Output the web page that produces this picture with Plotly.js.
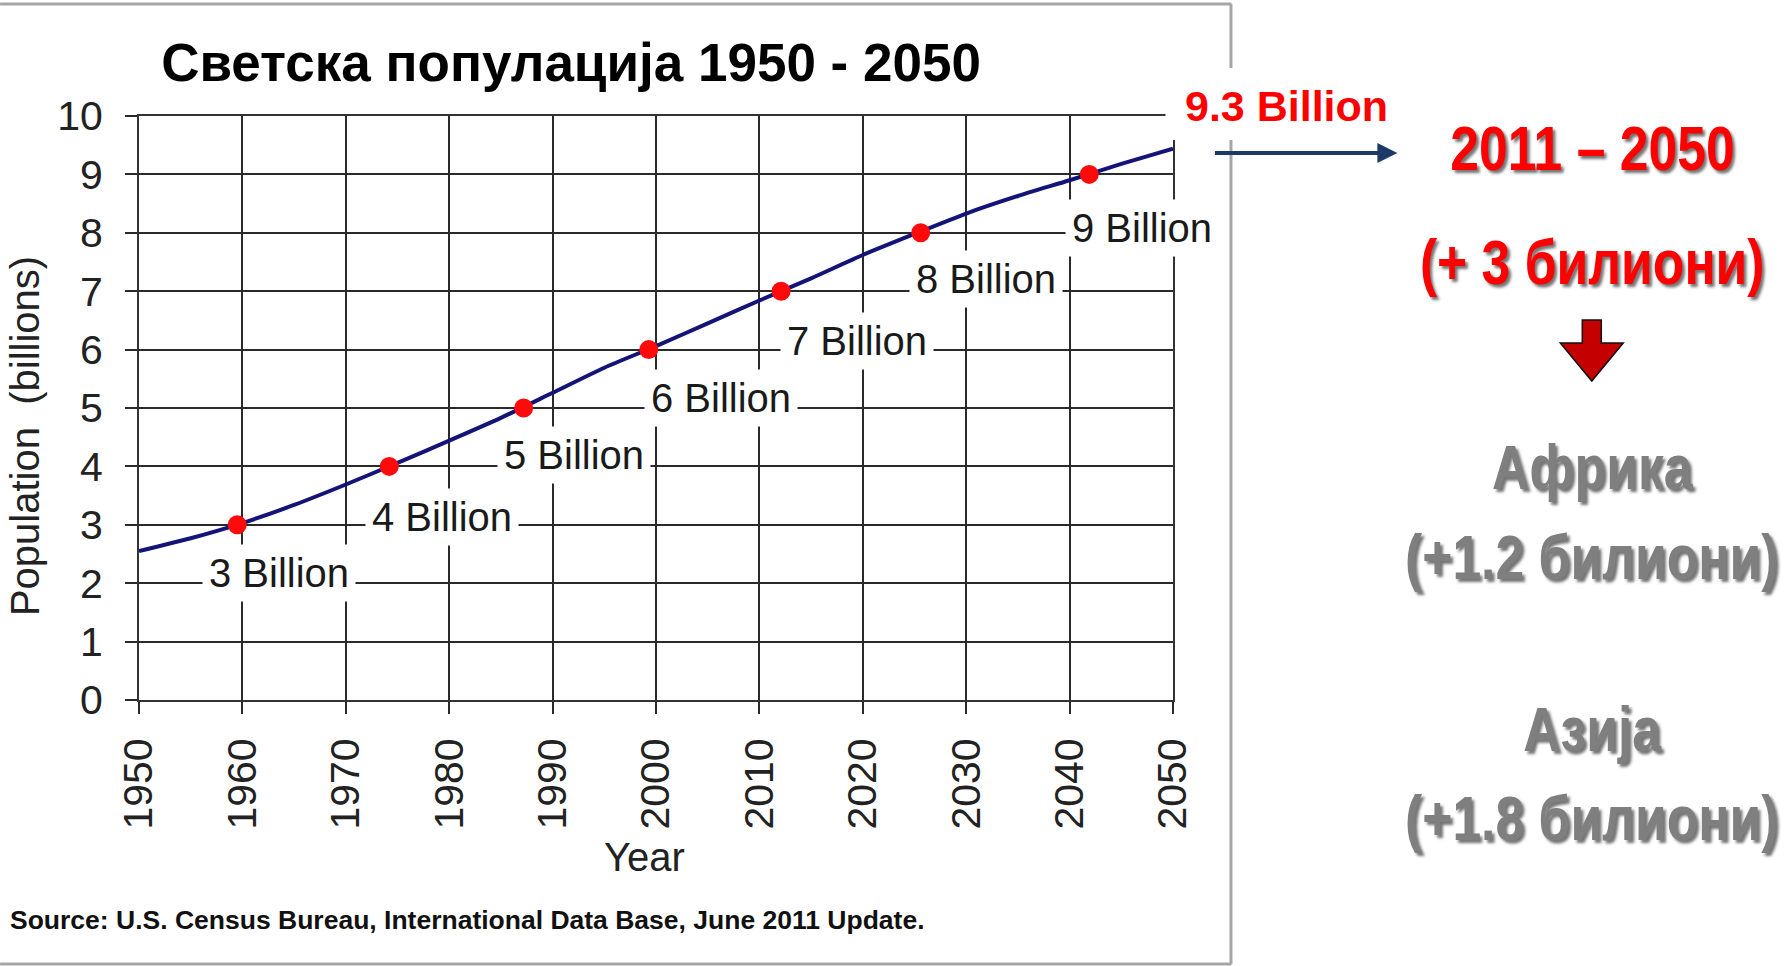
<!DOCTYPE html>
<html>
<head>
<meta charset="utf-8">
<script src="https://cdn.plot.ly/plotly-3.0.1.min.js"></script>
<style>
html,body{margin:0;padding:0;background:#fff;}
#chart{width:1787px;height:966px;}
</style>
</head>
<body>
<div id="chart"></div>
<script>
// ---- data ----
const years = [1950,1955,1960,1965,1970,1975,1980,1985,1990,1995,2000,2005,2010,2015,2020,2025,2030,2035,2040,2045,2050];
const population = [2.55,2.77,3.03,3.34,3.69,4.06,4.44,4.83,5.26,5.69,6.06,6.45,6.84,7.22,7.62,7.98,8.33,8.63,8.90,9.18,9.44];
const milestoneYears = [1959.5,1974.2,1987.2,1999.3,2012.1,2025.6,2041.9];
const milestoneValues = [3,4,5,6,7,8,9];
const milestoneLabels = ['3 Billion','4 Billion','5 Billion','6 Billion','7 Billion','8 Billion','9 Billion'];
const xTicks = [1950,1960,1970,1980,1990,2000,2010,2020,2030,2040,2050];
const yTicks = [0,1,2,3,4,5,6,7,8,9,10];
const titleText = 'Светска популација 1950 - 2050';
const xTitle = 'Year';
const yTitle = 'Population  (billions)';
const sourceText = 'Source: U.S. Census Bureau, International Data Base, June 2011 Update.';
const endLabel = '9.3 Billion';
const sideTexts = ['2011 – 2050','(+ 3 билиони)','Африка','(+1.2 билиони)','Азија','(+1.8 билиони)'];

// ---- layout helpers (pixel -> paper) ----
const W = 1787, H = 966, L = 139, R = 1173.5, T = 116, B = 700;
const px = x => (x - L) / (R - L);
const py = y => (B - y) / (B - T);

// label placement relative to milestone point (years, billions)
const labelDX = [4.05, 5.15, 4.85, 6.95, 7.35, 6.35, 5.1];
const labelDY = [-0.83, -0.86, -0.81, -0.83, -0.85, -0.79, -0.91];

const baseFont = 'Liberation Sans, Arial, sans-serif';

const traces = [
  {
    x: years, y: population, type: 'scatter', mode: 'lines',
    line: {color: '#141478', width: 4, shape: 'spline', smoothing: 0.6},
    hoverinfo: 'skip', showlegend: false
  },
  {
    x: milestoneYears, y: milestoneValues, type: 'scatter', mode: 'markers',
    marker: {color: '#ff0a0a', size: 19},
    showlegend: false
  }
];

const annotations = [];
milestoneLabels.forEach((t, i) => {
  annotations.push({
    x: milestoneYears[i] + labelDX[i], y: milestoneValues[i] + labelDY[i],
    xref: 'x', yref: 'y', text: t, showarrow: false,
    xanchor: 'center', yanchor: 'middle',
    font: {family: baseFont, size: 40, color: '#1a1a1a'},
    bgcolor: '#ffffff', borderpad: 6
  });
});

// axis titles
annotations.push({
  x: px(25), y: py(436), xref: 'paper', yref: 'paper', text: yTitle, textangle: -90,
  showarrow: false, xanchor: 'center', yanchor: 'middle',
  font: {family: baseFont, size: 40, color: '#222'}
});
annotations.push({
  x: px(645), y: py(857), xref: 'paper', yref: 'paper', text: xTitle,
  showarrow: false, xanchor: 'center', yanchor: 'middle',
  font: {family: baseFont, size: 40, color: '#222'}
});
// source
annotations.push({
  x: px(8), y: py(920), xref: 'paper', yref: 'paper', text: sourceText,
  showarrow: false, xanchor: 'left', yanchor: 'middle',
  font: {family: baseFont, size: 26.5, color: '#111', weight: 'bold'}
});
// end label
annotations.push({
  x: px(1287), y: py(106), xref: 'paper', yref: 'paper', text: endLabel,
  showarrow: false, xanchor: 'center', yanchor: 'middle',
  font: {family: baseFont, size: 43, color: '#ff0000', weight: 'bold'}
});
// arrow
annotations.push({
  x: px(1398), y: py(153), xref: 'paper', yref: 'paper', text: '',
  showarrow: true, ax: -184, ay: 0, arrowhead: 2, arrowsize: 1, arrowwidth: 4,
  arrowcolor: '#1b3a66', standoff: 0
});
// side texts (condensed bold)
const sideY = [148, 262, 467, 557, 729, 818];
const sideColor = ['#ff0000','#ff0000','#7f7f7f','#7f7f7f','#7f7f7f','#7f7f7f'];
const narrowStart = annotations.length;
sideTexts.forEach((t, i) => {
  annotations.push({
    x: px(1593), y: py(sideY[i]), xref: 'paper', yref: 'paper', text: t,
    showarrow: false, xanchor: 'center', yanchor: 'middle',
    font: {family: baseFont, size: 63, color: sideColor[i], weight: 'bold',
           shadow: '3px 3px 3px rgba(0,0,0,0.55)'}
  });
});

const shapes = [
  // grey frame around the chart
  {type: 'line', xref: 'paper', yref: 'paper', x0: px(0), x1: px(1232), y0: py(4), y1: py(4),
   line: {color: '#a6a6a6', width: 3}, layer: 'above'},
  {type: 'line', xref: 'paper', yref: 'paper', x0: px(1231.5), x1: px(1231.5), y0: py(4), y1: py(964),
   line: {color: '#a6a6a6', width: 3}, layer: 'above'},
  {type: 'line', xref: 'paper', yref: 'paper', x0: px(0), x1: px(1232), y0: py(964), y1: py(964),
   line: {color: '#a6a6a6', width: 3}, layer: 'above'},
  // white patch behind the end label
  {type: 'rect', xref: 'paper', yref: 'paper', x0: px(1166), x1: px(1245), y0: py(68), y1: py(140),
   fillcolor: '#ffffff', line: {width: 0}, layer: 'above'},
  // down arrow
  {type: 'path', xref: 'paper', yref: 'paper',
   path: 'M' + [[1583,320],[1602,320],[1602,343],[1624,343],[1592.5,381],[1561,343],[1583,343]]
     .map(p => px(p[0]) + ',' + py(p[1])).join(' L') + ' Z',
   fillcolor: '#c40000', line: {color: '#111', width: 1.5}, layer: 'above'}
];

const axisCommon = {
  showgrid: true, gridcolor: '#2a2a2a', gridwidth: 2,
  showline: true, mirror: true, linecolor: '#333', linewidth: 2,
  zeroline: false, ticks: 'outside', ticklen: 12, tickwidth: 2, tickcolor: '#2a2a2a',
  tickfont: {family: baseFont, size: 41, color: '#222'},
  fixedrange: true
};

const layout = {
  width: W, height: H,
  margin: {l: L, r: W - R, t: T, b: H - B, pad: 0},
  paper_bgcolor: '#ffffff', plot_bgcolor: '#ffffff',
  showlegend: false,
  title: {
    text: titleText, xref: 'container', yref: 'container',
    x: 571 / W, xanchor: 'center', y: 1 - 62 / H, yanchor: 'middle',
    font: {family: baseFont, size: 53, color: '#000', weight: 'bold'}
  },
  xaxis: Object.assign({}, axisCommon, {
    range: [1950, 2050], tickvals: xTicks, ticktext: xTicks.map(String),
    tickangle: -90, ticklabelstandoff: 8
  }),
  yaxis: Object.assign({}, axisCommon, {
    range: [0, 10], tickvals: yTicks, ticktext: yTicks.map(String),
    ticklabelstandoff: 14
  }),
  annotations: annotations,
  shapes: shapes
};

Plotly.newPlot('chart', traces, layout, {staticPlot: true, displayModeBar: false}).then(gd => {
  // condense the right-hand panel texts horizontally (Arial Narrow look)
  gd.querySelectorAll('.annotation').forEach(g => {
    const idx = +g.getAttribute('data-index');
    if (idx >= narrowStart) {
      const txt = g.querySelector('text.annotation-text');
      if (!txt) return;
      const bb = txt.getBBox();
      const cx = bb.x + bb.width / 2;
      txt.setAttribute('transform', 'translate(' + cx + ',0) scale(0.82,1) translate(' + (-cx) + ',0)');
    }
  });
});
</script>
</body>
</html>
